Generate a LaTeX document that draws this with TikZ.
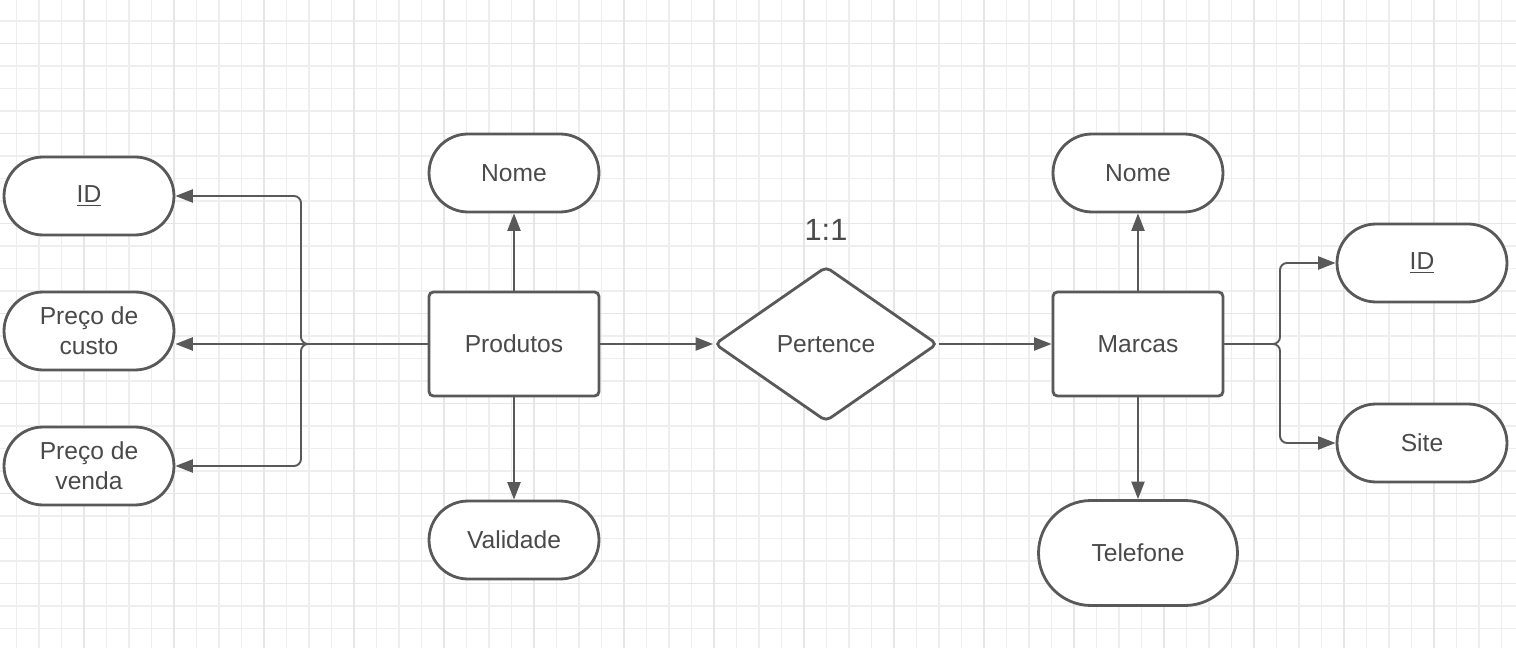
\documentclass[tikz,border=0pt]{standalone}
\usepackage{fontspec}
\setmainfont{Liberation Sans}
\usetikzlibrary{shapes.geometric,arrows.meta}

\definecolor{inkgray}{HTML}{595959}
\definecolor{txtgray}{HTML}{4A4A4A}
\definecolor{gridminor}{HTML}{EEEEEE}
\definecolor{gridmajor}{HTML}{E6E6E6}

\begin{document}
\begin{tikzpicture}[
  x=0.02cm,y=-0.02cm,
  font=\fontsize{14}{17}\selectfont,
  entity/.style={draw=inkgray, line width=1.6pt, rounded corners=2.5pt, fill=white, text=txtgray, minimum width=3.4cm, minimum height=2.08cm, align=center},
  attrib/.style={draw=inkgray, line width=1.6pt, rounded corners=0.78cm, fill=white, text=txtgray, minimum width=3.4cm, minimum height=1.56cm, align=center},
  relation/.style={diamond, draw=inkgray, line width=1.6pt, rounded corners=3pt, fill=white, text=txtgray, minimum width=4.46cm, minimum height=3.1cm, inner sep=0pt},
  conn/.style={draw=inkgray, line width=1.1pt, rounded corners=4pt, -{Triangle[length=10pt,width=7.5pt]}}
]

% Canvas: 1516 x 648 px
\useasboundingbox (0,0) rectangle (1516,648);

% Background grid
\begin{scope}
  \clip (0,0) rectangle (1516,648);
  \foreach \k in {0,...,67} \draw[gridminor, line width=0.6pt] ({-6+22.5*\k},0) -- ++(0,648);
  \foreach \k in {0,...,29} \draw[gridminor, line width=0.6pt] (0,{-1.5+22.5*\k}) -- ++(1516,0);
  \foreach \k in {0,...,17} \draw[gridmajor, line width=0.6pt] ({-6+90*\k},0) -- ++(0,648);
  \foreach \k in {0,...,7} \draw[gridmajor, line width=0.6pt] (0,{-46.5+90*\k}) -- ++(1516,0);
\end{scope}

% Produtos and its attributes
\node[attrib] (idP) at (89,196) {\underline{ID}};
\node[attrib] (custo) at (89,331) {Preço de\\custo};
\node[attrib] (venda) at (89,466) {Preço de\\venda};
\node[attrib] (nomeP) at (514,173) {Nome};
\node[entity] (prod) at (514,344) {Produtos};
\node[attrib] (valid) at (514,540) {Validade};

% Relationship
\node[relation] (pert) at (826,344) {Pertence};
\node[font=\fontsize{17.5}{20}\selectfont, text=txtgray] (card) at (826,230) {1:1};

% Marcas and its attributes
\node[attrib] (nomeM) at (1138,173) {Nome};
\node[entity] (marc) at (1138,344) {Marcas};
\node[attrib, minimum width=3.98cm, minimum height=2.1cm, rounded corners=1.05cm] (tel) at (1138,553) {Telefone};
\node[attrib] (idM) at (1422,263) {\underline{ID}};
\node[attrib] (site) at (1422,443) {Site};

% Connectors, Produtos side
\coordinate (lbus) at (301,344);
\draw[conn] (prod.west) -- (lbus) |- (idP.east);
\draw[conn] (prod.west) -- (custo.east |- prod.west);
\draw[conn] (prod.west) -- (lbus) |- (venda.east);
\draw[conn] (prod.north) -- (nomeP.south);
\draw[conn] (prod.south) -- (valid.north);

% Connectors through the relationship
\draw[conn] (prod.east) -- (pert.west);
\draw[conn] (pert.east) -- (marc.west);

% Connectors, Marcas side
\draw[conn] (marc.north) -- (nomeM.south);
\draw[conn] (marc.south) -- (tel.north);
\coordinate (rbus) at (1280,344);
\draw[conn] (marc.east) -- (rbus) |- (idM.west);
\draw[conn] (marc.east) -- (rbus) |- (site.west);

\end{tikzpicture}
\end{document}
